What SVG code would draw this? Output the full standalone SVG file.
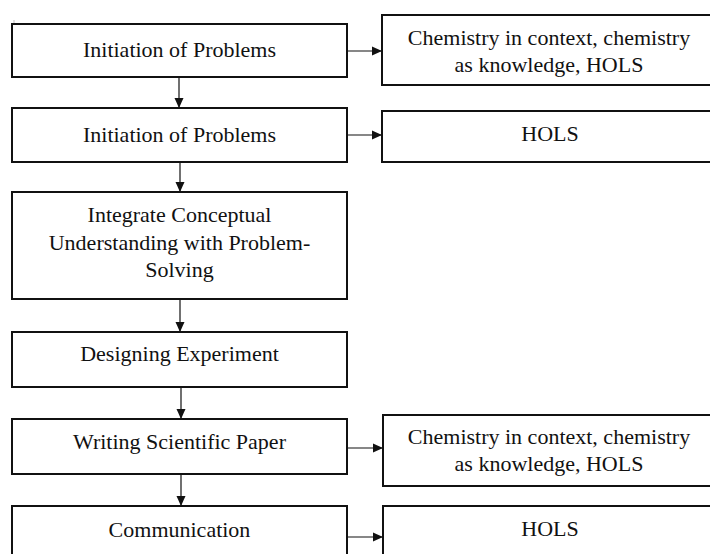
<svg xmlns="http://www.w3.org/2000/svg" width="710" height="554" viewBox="0 0 710 554">
<style>
.box{fill:#fff;stroke:#111;stroke-width:2}
.t{font-family:"Liberation Serif","Times New Roman",serif;font-size:22px;fill:#111;text-anchor:middle}
.c{stroke:#111;stroke-width:1.2;fill:none}
</style>
<defs>
<marker id="ah" viewBox="0 0 10 10" refX="10" refY="5" markerWidth="10" markerHeight="10" markerUnits="userSpaceOnUse" orient="auto">
<path d="M0,0.5 L10,5 L0,9.5 Z" fill="#111"/>
</marker>
</defs>
<rect x="0" y="0" width="710" height="554" fill="#fff"/>
<line x1="14" y1="20" x2="14" y2="45" stroke="#bbb" stroke-width="1"/>
<g id="connectors">
<line class="c" x1="179" y1="77" x2="179" y2="108" marker-end="url(#ah)"/>
<line class="c" x1="180" y1="162" x2="180" y2="192" marker-end="url(#ah)"/>
<line class="c" x1="180" y1="299" x2="180" y2="332" marker-end="url(#ah)"/>
<line class="c" x1="181" y1="387" x2="181" y2="419" marker-end="url(#ah)"/>
<line class="c" x1="181" y1="474" x2="181" y2="506" marker-end="url(#ah)"/>
<line class="c" x1="347" y1="51" x2="382" y2="51" marker-end="url(#ah)"/>
<line class="c" x1="347" y1="135" x2="382" y2="135" marker-end="url(#ah)"/>
<line class="c" x1="347" y1="448" x2="383" y2="448" marker-end="url(#ah)"/>
<line class="c" x1="347" y1="537" x2="383" y2="537" marker-end="url(#ah)"/>
</g>
<g id="n1"><rect class="box" x="12" y="24" width="335" height="53"/><text class="t" x="179.5" y="57">Initiation of Problems</text></g>
<g id="n2"><rect class="box" x="12" y="108" width="335" height="54"/><text class="t" x="179.5" y="142">Initiation of Problems</text></g>
<g id="n3"><rect class="box" x="12" y="192" width="335" height="107"/><text class="t" x="179.5" y="222">Integrate Conceptual</text><text class="t" x="179.5" y="250">Understanding with Problem-</text><text class="t" x="179.5" y="277">Solving</text></g>
<g id="n4"><rect class="box" x="12" y="332" width="335" height="55"/><text class="t" x="179.5" y="361">Designing Experiment</text></g>
<g id="n5"><rect class="box" x="12" y="419" width="335" height="55"/><text class="t" x="179.5" y="449">Writing Scientific Paper</text></g>
<g id="n6"><rect class="box" x="12" y="506" width="335" height="60"/><text class="t" x="179.5" y="537">Communication</text></g>
<g id="r1"><rect class="box" x="382" y="15" width="340" height="70"/><text class="t" x="549" y="45">Chemistry in context, chemistry</text><text class="t" x="549" y="72">as knowledge, HOLS</text></g>
<g id="r2"><rect class="box" x="382" y="111" width="340" height="51"/><text class="t" x="550" y="141">HOLS</text></g>
<g id="r3"><rect class="box" x="383" y="415" width="340" height="71"/><text class="t" x="549" y="444">Chemistry in context, chemistry</text><text class="t" x="549" y="471">as knowledge, HOLS</text></g>
<g id="r4"><rect class="box" x="383" y="506" width="340" height="60"/><text class="t" x="550" y="536">HOLS</text></g>
</svg>
